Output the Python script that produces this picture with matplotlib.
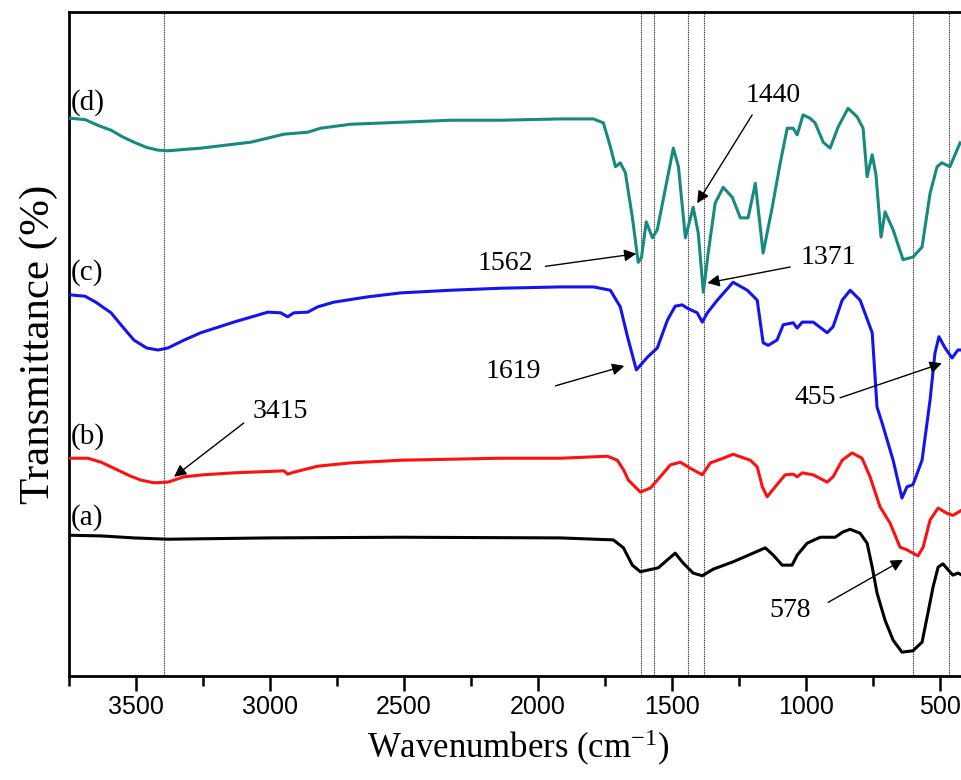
import numpy as np
import matplotlib
matplotlib.use("Agg")
import matplotlib.pyplot as plt
from matplotlib import font_manager

# ===== DANE =====

# (a)
wn_a = [3746, 3630, 3508, 3381, 3008, 2512, 1916, 1719, 1681, 1648, 1618, 1551, 1517,
        1488, 1458, 1421, 1387, 1346, 1272, 1152, 1122, 1089, 1052, 1033, 996, 947,
        891, 862, 835, 798, 772, 753, 735, 705, 675, 642, 601, 567, 545, 526, 507,
        489, 470, 452, 433, 418]
t_a = [21.2, 21.1, 20.8, 20.6, 20.8, 20.9, 20.8, 20.5, 19.3, 16.7, 15.7, 16.3, 17.5,
       18.5, 17.0, 15.5, 15.1, 16.1, 17.2, 19.3, 18.2, 16.7, 16.7, 18.2, 20.0, 20.9,
       20.9, 21.7, 22.1, 21.5, 20.0, 16.4, 12.5, 8.4, 5.4, 3.6, 3.8, 5.1, 9.5, 13.4,
       16.4, 16.9, 16.0, 15.2, 15.5, 15.2]

# (b)
wn_b = [3746, 3680, 3630, 3567, 3520, 3481, 3433, 3381, 3321, 3250, 3135, 2948, 2934,
        2911, 2822, 2699, 2512, 2140, 1916, 1741, 1704, 1680, 1663, 1618, 1581, 1544,
        1506, 1469, 1432, 1387, 1357, 1309, 1272, 1208, 1182, 1163, 1145, 1115, 1078,
        1048, 1033, 1014, 973, 921, 899, 865, 828, 791, 761, 724, 686, 649, 623, 601,
        582, 563, 537, 507, 474, 452, 418]
t_b = [32.8, 32.8, 32.2, 31.0, 30.1, 29.5, 29.1, 29.2, 30.0, 30.3, 30.6, 30.9, 30.4,
       30.7, 31.6, 32.1, 32.5, 32.8, 32.8, 33.1, 32.5, 31.0, 29.5, 27.7, 28.3, 30.0,
       31.8, 32.2, 31.3, 30.3, 32.1, 32.8, 33.4, 32.5, 31.5, 28.5, 27.0, 28.5, 30.3,
       30.4, 30.0, 30.6, 30.3, 29.2, 30.0, 32.5, 33.6, 32.8, 30.0, 25.5, 23.0, 19.4,
       19.0, 18.5, 18.1, 19.4, 23.5, 25.3, 24.5, 24.2, 25.0]

# (c)
wn_c = [3746, 3690, 3650, 3593, 3550, 3508, 3460, 3418, 3381, 3320, 3258, 3135, 3008,
        2960, 2934, 2911, 2859, 2822, 2762, 2636, 2512, 2326, 2140, 1916, 1793, 1730,
        1693, 1666, 1633, 1592, 1555, 1517, 1488, 1462, 1443, 1406, 1387, 1368, 1331,
        1272, 1219, 1182, 1160, 1141, 1108, 1085, 1048, 1033, 1014, 973, 921, 899,
        865, 835, 798, 753, 735, 716, 675, 642, 623, 601, 567, 537, 519, 504, 481,
        455, 433, 418]
t_c = [57.4, 57.2, 56.3, 54.7, 52.6, 50.6, 49.4, 49.1, 49.4, 50.6, 51.7, 53.3, 54.8,
       54.7, 54.1, 54.7, 54.8, 55.6, 56.3, 57.1, 57.7, 58.1, 58.4, 58.6, 58.6, 58.1,
       55.6, 51.1, 46.1, 48.0, 49.4, 53.6, 55.7, 55.9, 55.4, 54.7, 53.3, 54.7, 56.6,
       59.3, 58.1, 56.6, 50.2, 49.8, 50.6, 52.9, 53.2, 52.4, 53.3, 53.3, 51.7, 52.6,
       56.6, 58.1, 56.6, 51.7, 40.5, 38.1, 32.5, 26.8, 28.5, 28.8, 32.5, 41.6, 48.6,
       51.1, 49.4, 47.9, 49.1, 49.1]

# (d)
wn_d = [3746, 3690, 3640, 3593, 3550, 3508, 3460, 3418, 3381, 3258, 3071, 2948, 2859,
        2811, 2699, 2512, 2326, 2140, 1916, 1793, 1756, 1730, 1711, 1693, 1674, 1648,
        1626, 1614, 1596, 1573, 1555, 1495, 1476, 1450, 1421, 1402, 1383, 1365, 1339,
        1309, 1275, 1245, 1216, 1189, 1160, 1126, 1096, 1070, 1048, 1033, 1011, 985,
        966, 936, 910, 880, 843, 809, 787, 772, 753, 739, 720, 705, 675, 638, 601,
        567, 537, 511, 493, 463, 425]
t_d = [84.0, 83.8, 82.9, 82.2, 81.2, 80.4, 79.6, 79.2, 79.1, 79.5, 80.4, 81.6, 81.9,
       82.5, 83.1, 83.4, 83.7, 83.7, 83.9, 83.9, 83.3, 79.7, 76.7, 77.3, 75.8, 69.1,
       62.3, 63.0, 68.4, 66.0, 67.2, 79.5, 76.7, 66.0, 70.6, 66.7, 57.8, 63.7, 71.2,
       73.6, 72.1, 69.0, 69.0, 74.2, 63.7, 70.6, 77.3, 82.5, 82.5, 81.5, 84.5, 84.0,
       83.3, 80.4, 79.5, 82.7, 85.5, 84.2, 82.5, 75.2, 78.5, 75.5, 66.1, 69.9, 67.2,
       62.7, 63.1, 64.6, 72.7, 76.7, 77.3, 76.7, 80.3]

series = [
    ("(a)", wn_a, t_a, "#000000", 23.8),
    ("(b)", wn_b, t_b, "#ff1010", 36.0),
    ("(c)", wn_c, t_c, "#1414f0", 60.8),
    ("(d)", wn_d, t_d, "#178a80", 86.3),
]

# pionowe linie pomocnicze
vlines = [3395, 1615, 1568, 1440, 1380, 602, 465]

# podpisy pasm: tekst, pozycja tekstu, początek strzałki, grot strzałki
bands = [
    ("3415", (2960, 39.8), (3098, 38.1), (3358, 30.0)),
    ("1562", (2121, 62.2), (1972, 61.7), (1633, 63.6)),
    ("1619", (2091, 45.8), (1935, 43.7), (1678, 46.7)),
    ("1440", (1122, 87.5), (1201, 84.5), (1406, 71.2)),
    ("1371", (917, 63.1), (1059, 61.6), (1368, 59.2)),
    ("455", (966, 41.9), (873, 41.9), (493, 47.1)),
    ("578", (1059, 9.9), (917, 11.1), (638, 17.5)),
]

# ===== RYSUNEK =====

serif = ["Liberation Serif", "DejaVu Serif"]
plt.rcParams["mathtext.fontset"] = "custom"
plt.rcParams["mathtext.rm"] = "Liberation Serif"
plt.rcParams["mathtext.it"] = "Liberation Serif:italic"

installed = {f.name for f in font_manager.fontManager.ttflist}
tick_font = "Liberation Sans Narrow" if "Liberation Sans Narrow" in installed else "Liberation Sans"

fig = plt.figure(figsize=(9.62, 7.80), dpi=100)
ax = fig.add_axes([0.0717, 0.1333, 0.9333, 0.8513])

for x in vlines:
    ax.axvline(x, color="#444444", lw=0.8, ls=(0, (1, 0.6)), zorder=1)

for name, wn, t, color, ly in series:
    ax.plot(wn, t, color=color, lw=2.2, zorder=3, solid_joinstyle="round")
    ax.text(3744, ly, name, fontsize=21, family=serif, ha="left", va="center")

for label, txt_pos, start, tip in bands:
    ax.text(*txt_pos, label, fontsize=20, family=serif, ha="center", va="center")
    ax.annotate("", xy=tip, xytext=start,
                arrowprops=dict(arrowstyle="-|>", color="k", lw=1.0,
                                mutation_scale=18, shrinkA=0, shrinkB=0),
                zorder=4)

ax.set_xlim(3746, 400)
ax.set_ylim(0, 100)
ax.set_xticks([3500, 3000, 2500, 2000, 1500, 1000, 500])
ax.set_xticks(np.arange(3750, 400, -250), minor=True)
ax.set_yticks([])
for lab in ax.get_xticklabels():
    lab.set_family(tick_font)
    lab.set_fontsize(18)
ax.tick_params(axis="x", which="major", direction="out", length=11, width=1.8, pad=3)
ax.tick_params(axis="x", which="minor", direction="out", length=7, width=1.8)
for side in ["left", "bottom", "top"]:
    ax.spines[side].set_linewidth(2.0)
ax.spines["right"].set_visible(False)

ax.set_xlabel("Wavenumbers (cm$^{-1}$)", fontsize=25, family=serif, labelpad=6)
ax.set_ylabel("Transmittance (%)", fontsize=31, family=serif, labelpad=8)

fig.savefig("out.png", dpi=100)
